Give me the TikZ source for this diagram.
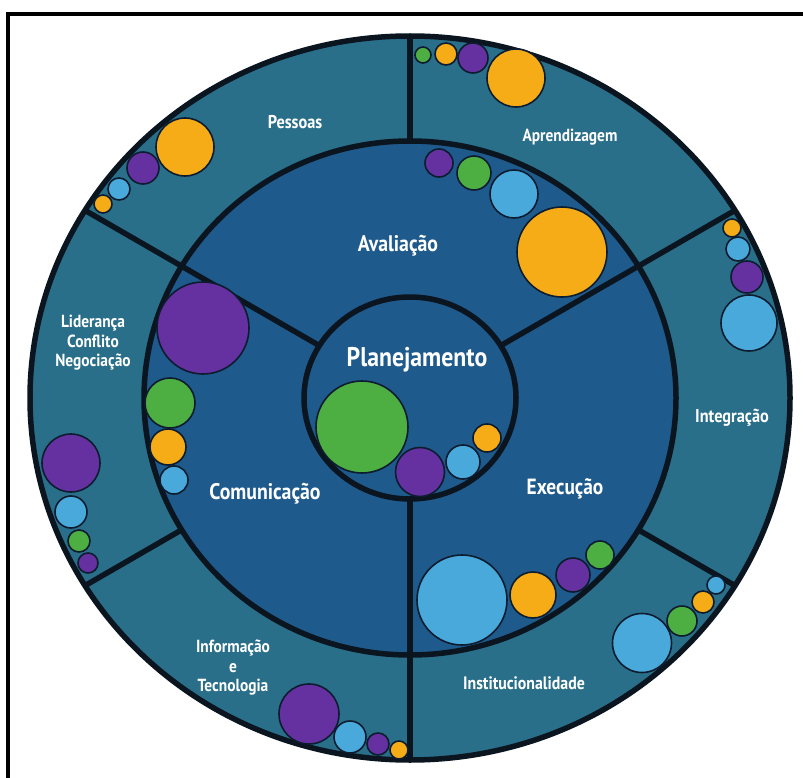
\documentclass[tikz,border=0pt]{standalone}
\usepackage{fontspec}
\newfontfamily\lab[FakeStretch=0.88]{PT Sans}
\usetikzlibrary{calc}
\definecolor{ringout}{HTML}{2A6F8A}
\definecolor{ringmid}{HTML}{1E5A8C}
\definecolor{borderc}{HTML}{0A1520}
\definecolor{bor}{HTML}{F6AC17}
\definecolor{bpu}{HTML}{6531A0}
\definecolor{bgr}{HTML}{4DAE42}
\definecolor{blb}{HTML}{4AA9DB}
\definecolor{bubline}{HTML}{0E1C30}
\tikzset{
  ringline/.style={draw=borderc, line width=5.5pt},
  divline/.style={draw=borderc, line width=5.5pt},
  bub/.style={draw=bubline, line width=1.6pt},
  lbl/.style={text=white, font=\lab, align=center, inner sep=0pt},
}
\begin{document}
\begin{tikzpicture}[x=1pt,y=-1pt]
\useasboundingbox (0,0) rectangle (803,778);
\fill[white] (0,0) rectangle (803,778);
% frame (top and left edges)
\draw[black, line width=4pt] (8,778) -- (8,14) -- (803,14);
\coordinate (C) at (410,398);
% outer disc
\fill[ringout] (C) ellipse [x radius=380, y radius=362];
\begin{scope}
  \clip (C) ellipse [x radius=380, y radius=362];
  \draw[divline] (C) -- ++(270:500);
  \draw[divline] (C) -- ++(150:500);
  \draw[divline] (C) -- ++(30:500);
\end{scope}
% middle disc
\fill[ringmid] (C) ellipse [x radius=266, y radius=257];
\begin{scope}
  \clip (C) ellipse [x radius=380, y radius=362];
  \draw[divline] (C) -- ++(210:500);
  \draw[divline] (C) -- ++(330:500);
  \draw[divline] (C) -- ++(90:500);
\end{scope}
\draw[ringline] (C) ellipse [x radius=266, y radius=257];
% inner disc
\filldraw[ringmid, ringline] (C) ellipse [x radius=106, y radius=101];
\draw[ringline] (C) ellipse [x radius=380, y radius=362];
% bubbles: Pessoas
\filldraw[bub, fill=bor] (185,147) circle [radius=29];
\filldraw[bub, fill=bpu] (143,168) circle [radius=16];
\filldraw[bub, fill=blb] (119,189) circle [radius=11];
\filldraw[bub, fill=bor] (103,204) circle [radius=9];
% Aprendizagem
\filldraw[bub, fill=bgr] (423,55) circle [radius=8];
\filldraw[bub, fill=bor] (446,54) circle [radius=11];
\filldraw[bub, fill=bpu] (473,58) circle [radius=15];
\filldraw[bub, fill=bor] (516,78) circle [radius=29];
% Avaliacao
\filldraw[bub, fill=bpu] (439,163) circle [radius=14];
\filldraw[bub, fill=bgr] (474,173) circle [radius=17];
\filldraw[bub, fill=blb] (514,194) circle [radius=24];
\filldraw[bub, fill=bor] (562,252) circle [radius=45];
% Integracao
\filldraw[bub, fill=bor] (732,228) circle [radius=9];
\filldraw[bub, fill=blb] (738,249) circle [radius=12];
\filldraw[bub, fill=bpu] (747,277) circle [radius=16];
\filldraw[bub, fill=blb] (749,323) circle [radius=28];
% Lideranca
\filldraw[bub, fill=bpu] (71,463) circle [radius=29];
\filldraw[bub, fill=blb] (71,512) circle [radius=16];
\filldraw[bub, fill=bgr] (79,541) circle [radius=11];
\filldraw[bub, fill=bpu] (88,563) circle [radius=10];
% Comunicacao
\filldraw[bub, fill=bpu] (203,328) circle [radius=46];
\filldraw[bub, fill=bgr] (170,403) circle [radius=25];
\filldraw[bub, fill=bor] (168,447) circle [radius=18];
\filldraw[bub, fill=blb] (174,480) circle [radius=14];
% Informacao
\filldraw[bub, fill=bpu] (309,714) circle [radius=30];
\filldraw[bub, fill=blb] (350,737) circle [radius=16];
\filldraw[bub, fill=bpu] (378,744) circle [radius=11];
\filldraw[bub, fill=bor] (399,750) circle [radius=9];
% Planejamento
\filldraw[bub, fill=bgr] (362,427) circle [radius=46];
\filldraw[bub, fill=bpu] (420,472) circle [radius=24.5];
\filldraw[bub, fill=blb] (463,462) circle [radius=17];
\filldraw[bub, fill=bor] (487,438) circle [radius=14];
% Execucao
\filldraw[bub, fill=blb] (462,600) circle [radius=45];
\filldraw[bub, fill=bor] (533,595) circle [radius=23];
\filldraw[bub, fill=bpu] (573,575) circle [radius=17];
\filldraw[bub, fill=bgr] (600,555) circle [radius=14];
% Institucionalidade
\filldraw[bub, fill=blb] (642,643) circle [radius=29.5];
\filldraw[bub, fill=bgr] (682,621) circle [radius=15];
\filldraw[bub, fill=bor] (703,602) circle [radius=11];
\filldraw[bub, fill=blb] (716,585) circle [radius=9];
% labels
\node[lbl, font=\lab\bfseries\fontsize{27}{27}\selectfont] (plan) at (417,360) {Planejamento};
\node[lbl, font=\lab\bfseries\fontsize{22.5}{23}\selectfont] (aval) at (398,246) {Avaliação};
\node[lbl, font=\lab\bfseries\fontsize{22.5}{23}\selectfont] (comu) at (265,494) {Comunicação};
\node[lbl, font=\lab\bfseries\fontsize{22}{23}\selectfont] (exec) at (565,489) {Execução};
\node[lbl, font=\lab\bfseries\fontsize{18.5}{19}\selectfont] (pess) at (295,122) {Pessoas};
\node[lbl, font=\lab\bfseries\fontsize{17.5}{19}\selectfont] (apre) at (570,137) {Aprendizagem};
\node[lbl, font=\lab\bfseries\fontsize{18.5}{19}\selectfont] (inte) at (732,418) {Integração};
\node[lbl, font=\lab\bfseries\fontsize{18}{19}\selectfont] (inst) at (524,683) {Institucionalidade};
\node[lbl, font=\lab\bfseries\fontsize{17.5}{19.5}\selectfont] (info) at (233,668) {Informação\\e\\Tecnologia};
\node[lbl, font=\lab\bfseries\fontsize{17.5}{19.5}\selectfont] (lide) at (93,343) {Liderança\\Conflito\\Negociação};
\end{tikzpicture}
\end{document}
